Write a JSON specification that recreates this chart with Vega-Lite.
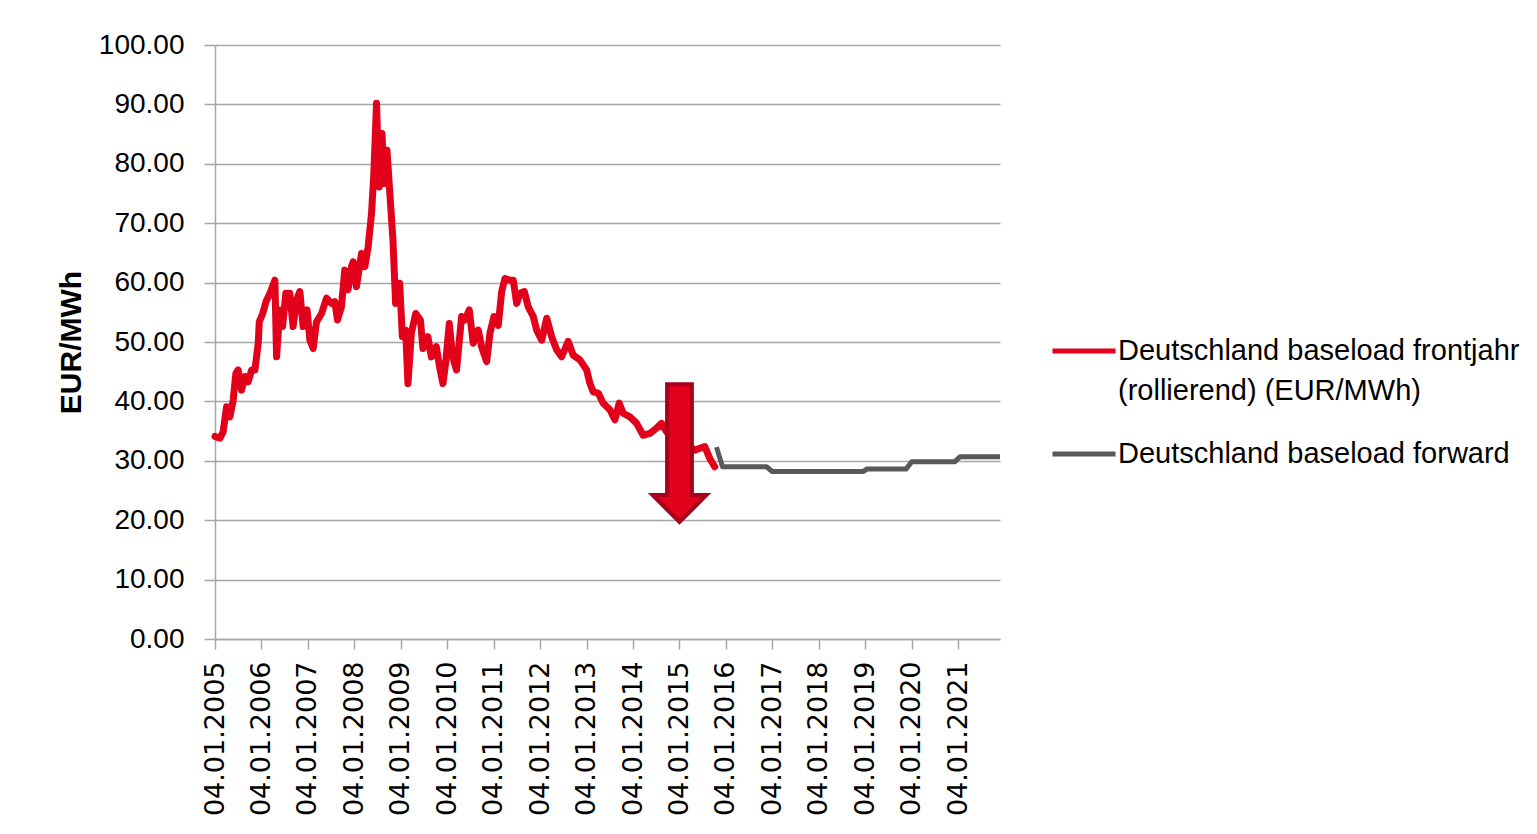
{
  "$schema": "https://vega.github.io/schema/vega-lite/v6.json",
  "autosize": {"type": "none"},
  "width": 785,
  "height": 594,
  "padding": {"left": 215, "top": 45, "right": 537, "bottom": 195},
  "background": "white",
  "config": {
    "view": {"stroke": null},
    "font": "Liberation Sans",
    "style": {"guide-label": {"lineHeight": 40}}
  },
  "layer": [
    {
      "data": {"values": [
        {"series": "Deutschland baseload frontjahr (rollierend) (EUR/MWh)", "date": "2005-01-04", "price": 34.1},
        {"series": "Deutschland baseload frontjahr (rollierend) (EUR/MWh)", "date": "2005-02-12", "price": 33.8},
        {"series": "Deutschland baseload frontjahr (rollierend) (EUR/MWh)", "date": "2005-03-09", "price": 34.9},
        {"series": "Deutschland baseload frontjahr (rollierend) (EUR/MWh)", "date": "2005-04-05", "price": 39.1},
        {"series": "Deutschland baseload frontjahr (rollierend) (EUR/MWh)", "date": "2005-05-01", "price": 37.4},
        {"series": "Deutschland baseload frontjahr (rollierend) (EUR/MWh)", "date": "2005-05-27", "price": 40.2},
        {"series": "Deutschland baseload frontjahr (rollierend) (EUR/MWh)", "date": "2005-06-17", "price": 44.7},
        {"series": "Deutschland baseload frontjahr (rollierend) (EUR/MWh)", "date": "2005-07-05", "price": 45.3},
        {"series": "Deutschland baseload frontjahr (rollierend) (EUR/MWh)", "date": "2005-08-01", "price": 41.9},
        {"series": "Deutschland baseload frontjahr (rollierend) (EUR/MWh)", "date": "2005-08-27", "price": 44.2},
        {"series": "Deutschland baseload frontjahr (rollierend) (EUR/MWh)", "date": "2005-09-22", "price": 43.3},
        {"series": "Deutschland baseload frontjahr (rollierend) (EUR/MWh)", "date": "2005-10-19", "price": 45.3},
        {"series": "Deutschland baseload frontjahr (rollierend) (EUR/MWh)", "date": "2005-11-14", "price": 45.3},
        {"series": "Deutschland baseload frontjahr (rollierend) (EUR/MWh)", "date": "2005-12-10", "price": 49.8},
        {"series": "Deutschland baseload frontjahr (rollierend) (EUR/MWh)", "date": "2005-12-18", "price": 53.4},
        {"series": "Deutschland baseload frontjahr (rollierend) (EUR/MWh)", "date": "2006-01-14", "price": 54.8},
        {"series": "Deutschland baseload frontjahr (rollierend) (EUR/MWh)", "date": "2006-02-09", "price": 56.8},
        {"series": "Deutschland baseload frontjahr (rollierend) (EUR/MWh)", "date": "2006-03-12", "price": 58.2},
        {"series": "Deutschland baseload frontjahr (rollierend) (EUR/MWh)", "date": "2006-04-20", "price": 60.4},
        {"series": "Deutschland baseload frontjahr (rollierend) (EUR/MWh)", "date": "2006-05-03", "price": 47.5},
        {"series": "Deutschland baseload frontjahr (rollierend) (EUR/MWh)", "date": "2006-05-29", "price": 55.4},
        {"series": "Deutschland baseload frontjahr (rollierend) (EUR/MWh)", "date": "2006-06-19", "price": 52.6},
        {"series": "Deutschland baseload frontjahr (rollierend) (EUR/MWh)", "date": "2006-07-15", "price": 58.2},
        {"series": "Deutschland baseload frontjahr (rollierend) (EUR/MWh)", "date": "2006-08-15", "price": 58.2},
        {"series": "Deutschland baseload frontjahr (rollierend) (EUR/MWh)", "date": "2006-09-10", "price": 52.6},
        {"series": "Deutschland baseload frontjahr (rollierend) (EUR/MWh)", "date": "2006-10-07", "price": 57.1},
        {"series": "Deutschland baseload frontjahr (rollierend) (EUR/MWh)", "date": "2006-11-02", "price": 58.5},
        {"series": "Deutschland baseload frontjahr (rollierend) (EUR/MWh)", "date": "2006-11-28", "price": 52.6},
        {"series": "Deutschland baseload frontjahr (rollierend) (EUR/MWh)", "date": "2006-12-29", "price": 55.4},
        {"series": "Deutschland baseload frontjahr (rollierend) (EUR/MWh)", "date": "2007-01-20", "price": 50.3},
        {"series": "Deutschland baseload frontjahr (rollierend) (EUR/MWh)", "date": "2007-02-15", "price": 48.9},
        {"series": "Deutschland baseload frontjahr (rollierend) (EUR/MWh)", "date": "2007-03-13", "price": 53.4},
        {"series": "Deutschland baseload frontjahr (rollierend) (EUR/MWh)", "date": "2007-04-22", "price": 54.8},
        {"series": "Deutschland baseload frontjahr (rollierend) (EUR/MWh)", "date": "2007-05-31", "price": 57.4},
        {"series": "Deutschland baseload frontjahr (rollierend) (EUR/MWh)", "date": "2007-07-09", "price": 56.5},
        {"series": "Deutschland baseload frontjahr (rollierend) (EUR/MWh)", "date": "2007-08-04", "price": 56.8},
        {"series": "Deutschland baseload frontjahr (rollierend) (EUR/MWh)", "date": "2007-08-25", "price": 53.7},
        {"series": "Deutschland baseload frontjahr (rollierend) (EUR/MWh)", "date": "2007-09-25", "price": 55.9},
        {"series": "Deutschland baseload frontjahr (rollierend) (EUR/MWh)", "date": "2007-10-21", "price": 62.1},
        {"series": "Deutschland baseload frontjahr (rollierend) (EUR/MWh)", "date": "2007-11-16", "price": 58.8},
        {"series": "Deutschland baseload frontjahr (rollierend) (EUR/MWh)", "date": "2007-12-13", "price": 62.7},
        {"series": "Deutschland baseload frontjahr (rollierend) (EUR/MWh)", "date": "2007-12-26", "price": 63.5},
        {"series": "Deutschland baseload frontjahr (rollierend) (EUR/MWh)", "date": "2008-01-21", "price": 59.3},
        {"series": "Deutschland baseload frontjahr (rollierend) (EUR/MWh)", "date": "2008-03-01", "price": 64.9},
        {"series": "Deutschland baseload frontjahr (rollierend) (EUR/MWh)", "date": "2008-03-27", "price": 62.7},
        {"series": "Deutschland baseload frontjahr (rollierend) (EUR/MWh)", "date": "2008-04-22", "price": 66.0},
        {"series": "Deutschland baseload frontjahr (rollierend) (EUR/MWh)", "date": "2008-05-19", "price": 71.7},
        {"series": "Deutschland baseload frontjahr (rollierend) (EUR/MWh)", "date": "2008-06-06", "price": 78.4},
        {"series": "Deutschland baseload frontjahr (rollierend) (EUR/MWh)", "date": "2008-06-27", "price": 90.2},
        {"series": "Deutschland baseload frontjahr (rollierend) (EUR/MWh)", "date": "2008-07-17", "price": 76.1},
        {"series": "Deutschland baseload frontjahr (rollierend) (EUR/MWh)", "date": "2008-08-09", "price": 85.1},
        {"series": "Deutschland baseload frontjahr (rollierend) (EUR/MWh)", "date": "2008-08-25", "price": 76.7},
        {"series": "Deutschland baseload frontjahr (rollierend) (EUR/MWh)", "date": "2008-09-17", "price": 82.3},
        {"series": "Deutschland baseload frontjahr (rollierend) (EUR/MWh)", "date": "2008-10-08", "price": 75.6},
        {"series": "Deutschland baseload frontjahr (rollierend) (EUR/MWh)", "date": "2008-11-03", "price": 67.2},
        {"series": "Deutschland baseload frontjahr (rollierend) (EUR/MWh)", "date": "2008-11-24", "price": 56.5},
        {"series": "Deutschland baseload frontjahr (rollierend) (EUR/MWh)", "date": "2008-12-26", "price": 59.9},
        {"series": "Deutschland baseload frontjahr (rollierend) (EUR/MWh)", "date": "2009-01-16", "price": 50.9},
        {"series": "Deutschland baseload frontjahr (rollierend) (EUR/MWh)", "date": "2009-02-11", "price": 52.0},
        {"series": "Deutschland baseload frontjahr (rollierend) (EUR/MWh)", "date": "2009-03-01", "price": 43.0},
        {"series": "Deutschland baseload frontjahr (rollierend) (EUR/MWh)", "date": "2009-03-28", "price": 51.5},
        {"series": "Deutschland baseload frontjahr (rollierend) (EUR/MWh)", "date": "2009-05-01", "price": 54.8},
        {"series": "Deutschland baseload frontjahr (rollierend) (EUR/MWh)", "date": "2009-06-07", "price": 53.7},
        {"series": "Deutschland baseload frontjahr (rollierend) (EUR/MWh)", "date": "2009-06-27", "price": 48.9},
        {"series": "Deutschland baseload frontjahr (rollierend) (EUR/MWh)", "date": "2009-08-05", "price": 50.9},
        {"series": "Deutschland baseload frontjahr (rollierend) (EUR/MWh)", "date": "2009-09-01", "price": 47.5},
        {"series": "Deutschland baseload frontjahr (rollierend) (EUR/MWh)", "date": "2009-10-10", "price": 49.2},
        {"series": "Deutschland baseload frontjahr (rollierend) (EUR/MWh)", "date": "2009-11-05", "price": 45.8},
        {"series": "Deutschland baseload frontjahr (rollierend) (EUR/MWh)", "date": "2009-12-01", "price": 43.0},
        {"series": "Deutschland baseload frontjahr (rollierend) (EUR/MWh)", "date": "2009-12-22", "price": 46.4},
        {"series": "Deutschland baseload frontjahr (rollierend) (EUR/MWh)", "date": "2010-01-20", "price": 53.1},
        {"series": "Deutschland baseload frontjahr (rollierend) (EUR/MWh)", "date": "2010-02-15", "price": 47.5},
        {"series": "Deutschland baseload frontjahr (rollierend) (EUR/MWh)", "date": "2010-03-18", "price": 45.3},
        {"series": "Deutschland baseload frontjahr (rollierend) (EUR/MWh)", "date": "2010-04-27", "price": 54.3},
        {"series": "Deutschland baseload frontjahr (rollierend) (EUR/MWh)", "date": "2010-05-23", "price": 53.7},
        {"series": "Deutschland baseload frontjahr (rollierend) (EUR/MWh)", "date": "2010-06-26", "price": 55.4},
        {"series": "Deutschland baseload frontjahr (rollierend) (EUR/MWh)", "date": "2010-07-27", "price": 49.8},
        {"series": "Deutschland baseload frontjahr (rollierend) (EUR/MWh)", "date": "2010-09-05", "price": 52.0},
        {"series": "Deutschland baseload frontjahr (rollierend) (EUR/MWh)", "date": "2010-10-01", "price": 49.2},
        {"series": "Deutschland baseload frontjahr (rollierend) (EUR/MWh)", "date": "2010-11-10", "price": 46.7},
        {"series": "Deutschland baseload frontjahr (rollierend) (EUR/MWh)", "date": "2010-12-06", "price": 51.5},
        {"series": "Deutschland baseload frontjahr (rollierend) (EUR/MWh)", "date": "2011-01-06", "price": 54.3},
        {"series": "Deutschland baseload frontjahr (rollierend) (EUR/MWh)", "date": "2011-02-09", "price": 52.8},
        {"series": "Deutschland baseload frontjahr (rollierend) (EUR/MWh)", "date": "2011-03-08", "price": 58.5},
        {"series": "Deutschland baseload frontjahr (rollierend) (EUR/MWh)", "date": "2011-04-03", "price": 60.7},
        {"series": "Deutschland baseload frontjahr (rollierend) (EUR/MWh)", "date": "2011-05-12", "price": 60.4},
        {"series": "Deutschland baseload frontjahr (rollierend) (EUR/MWh)", "date": "2011-06-07", "price": 60.4},
        {"series": "Deutschland baseload frontjahr (rollierend) (EUR/MWh)", "date": "2011-07-04", "price": 56.5},
        {"series": "Deutschland baseload frontjahr (rollierend) (EUR/MWh)", "date": "2011-07-30", "price": 58.2},
        {"series": "Deutschland baseload frontjahr (rollierend) (EUR/MWh)", "date": "2011-09-02", "price": 58.5},
        {"series": "Deutschland baseload frontjahr (rollierend) (EUR/MWh)", "date": "2011-10-03", "price": 55.9},
        {"series": "Deutschland baseload frontjahr (rollierend) (EUR/MWh)", "date": "2011-11-11", "price": 54.3},
        {"series": "Deutschland baseload frontjahr (rollierend) (EUR/MWh)", "date": "2011-12-08", "price": 52.0},
        {"series": "Deutschland baseload frontjahr (rollierend) (EUR/MWh)", "date": "2012-01-17", "price": 50.3},
        {"series": "Deutschland baseload frontjahr (rollierend) (EUR/MWh)", "date": "2012-02-25", "price": 54.0},
        {"series": "Deutschland baseload frontjahr (rollierend) (EUR/MWh)", "date": "2012-04-04", "price": 50.9},
        {"series": "Deutschland baseload frontjahr (rollierend) (EUR/MWh)", "date": "2012-05-13", "price": 48.7},
        {"series": "Deutschland baseload frontjahr (rollierend) (EUR/MWh)", "date": "2012-06-21", "price": 47.5},
        {"series": "Deutschland baseload frontjahr (rollierend) (EUR/MWh)", "date": "2012-08-12", "price": 50.1},
        {"series": "Deutschland baseload frontjahr (rollierend) (EUR/MWh)", "date": "2012-09-20", "price": 47.8},
        {"series": "Deutschland baseload frontjahr (rollierend) (EUR/MWh)", "date": "2012-11-12", "price": 47.0},
        {"series": "Deutschland baseload frontjahr (rollierend) (EUR/MWh)", "date": "2013-01-04", "price": 45.3},
        {"series": "Deutschland baseload frontjahr (rollierend) (EUR/MWh)", "date": "2013-01-30", "price": 43.0},
        {"series": "Deutschland baseload frontjahr (rollierend) (EUR/MWh)", "date": "2013-02-25", "price": 41.6},
        {"series": "Deutschland baseload frontjahr (rollierend) (EUR/MWh)", "date": "2013-04-05", "price": 41.4},
        {"series": "Deutschland baseload frontjahr (rollierend) (EUR/MWh)", "date": "2013-05-14", "price": 39.7},
        {"series": "Deutschland baseload frontjahr (rollierend) (EUR/MWh)", "date": "2013-07-06", "price": 38.6},
        {"series": "Deutschland baseload frontjahr (rollierend) (EUR/MWh)", "date": "2013-08-14", "price": 36.9},
        {"series": "Deutschland baseload frontjahr (rollierend) (EUR/MWh)", "date": "2013-09-17", "price": 39.7},
        {"series": "Deutschland baseload frontjahr (rollierend) (EUR/MWh)", "date": "2013-10-18", "price": 38.0},
        {"series": "Deutschland baseload frontjahr (rollierend) (EUR/MWh)", "date": "2013-12-10", "price": 37.4},
        {"series": "Deutschland baseload frontjahr (rollierend) (EUR/MWh)", "date": "2014-02-01", "price": 36.3},
        {"series": "Deutschland baseload frontjahr (rollierend) (EUR/MWh)", "date": "2014-03-24", "price": 34.3},
        {"series": "Deutschland baseload frontjahr (rollierend) (EUR/MWh)", "date": "2014-05-16", "price": 34.6},
        {"series": "Deutschland baseload frontjahr (rollierend) (EUR/MWh)", "date": "2014-07-08", "price": 35.5},
        {"series": "Deutschland baseload frontjahr (rollierend) (EUR/MWh)", "date": "2014-08-16", "price": 36.3},
        {"series": "Deutschland baseload frontjahr (rollierend) (EUR/MWh)", "date": "2014-09-24", "price": 34.9},
        {"series": "Deutschland baseload frontjahr (rollierend) (EUR/MWh)", "date": "2014-11-29", "price": 34.0},
        {"series": "Deutschland baseload frontjahr (rollierend) (EUR/MWh)", "date": "2015-02-16", "price": 33.0},
        {"series": "Deutschland baseload frontjahr (rollierend) (EUR/MWh)", "date": "2015-05-05", "price": 31.8},
        {"series": "Deutschland baseload frontjahr (rollierend) (EUR/MWh)", "date": "2015-06-13", "price": 32.1},
        {"series": "Deutschland baseload frontjahr (rollierend) (EUR/MWh)", "date": "2015-07-22", "price": 32.4},
        {"series": "Deutschland baseload frontjahr (rollierend) (EUR/MWh)", "date": "2015-08-30", "price": 30.4},
        {"series": "Deutschland baseload frontjahr (rollierend) (EUR/MWh)", "date": "2015-10-08", "price": 29.0}
      ]},
      "mark": {"type": "line", "strokeWidth": 7, "strokeJoin": "round", "strokeCap": "round"},
      "encoding": {
        "x": {
          "field": "date", "type": "temporal",
          "scale": {"type": "utc", "domain": [{"year": 2005, "month": 1, "date": 4, "utc": true}, {"year": 2021, "month": 11, "date": 28, "utc": true}]},
          "axis": {
            "title": null,
            "grid": false,
            "values": [
              {"year": 2005, "month": 1, "date": 4, "utc": true},
              {"year": 2006, "month": 1, "date": 4, "utc": true},
              {"year": 2007, "month": 1, "date": 4, "utc": true},
              {"year": 2008, "month": 1, "date": 4, "utc": true},
              {"year": 2009, "month": 1, "date": 4, "utc": true},
              {"year": 2010, "month": 1, "date": 4, "utc": true},
              {"year": 2011, "month": 1, "date": 4, "utc": true},
              {"year": 2012, "month": 1, "date": 4, "utc": true},
              {"year": 2013, "month": 1, "date": 4, "utc": true},
              {"year": 2014, "month": 1, "date": 4, "utc": true},
              {"year": 2015, "month": 1, "date": 4, "utc": true},
              {"year": 2016, "month": 1, "date": 4, "utc": true},
              {"year": 2017, "month": 1, "date": 4, "utc": true},
              {"year": 2018, "month": 1, "date": 4, "utc": true},
              {"year": 2019, "month": 1, "date": 4, "utc": true},
              {"year": 2020, "month": 1, "date": 4, "utc": true},
              {"year": 2021, "month": 1, "date": 4, "utc": true}
            ],
            "labelExpr": "utcFormat(datum.value, '%d.%m.%Y')",
            "labelAngle": -90,
            "labelFont": "DejaVu Sans",
            "labelFontSize": 27,
            "labelColor": "#000000",
            "labelPadding": 12,
            "labelOverlap": false,
            "labelBound": false,
            "labelFlush": false,
            "tickSize": 10,
            "tickColor": "#a6a6a6",
            "tickWidth": 1.5,
            "domainColor": "#a6a6a6",
            "domainWidth": 1.5
          }
        },
        "y": {
          "field": "price", "type": "quantitative",
          "scale": {"domain": [0, 100], "nice": false},
          "axis": {
            "values": [0, 10, 20, 30, 40, 50, 60, 70, 80, 90, 100],
            "format": ".2f",
            "title": "EUR/MWh",
            "titleFont": "Liberation Sans",
            "titleFontSize": 30,
            "titleFontWeight": "bold",
            "titleColor": "#000000",
            "titlePadding": 12,
            "labelFont": "Liberation Sans",
            "labelFontSize": 28,
            "labelColor": "#000000",
            "labelPadding": 20,
            "labelFlush": false,
            "tickSize": 11,
            "tickColor": "#a6a6a6",
            "tickWidth": 1.5,
            "domainColor": "#a6a6a6",
            "domainWidth": 1.5,
            "grid": true,
            "gridColor": "#a6a6a6",
            "gridWidth": 1.5
          }
        },
        "color": {
          "field": "series", "type": "nominal",
          "scale": {"domain": ["Deutschland baseload frontjahr (rollierend) (EUR/MWh)", "Deutschland baseload forward"], "range": ["#e2001a", "#595959"]},
          "legend": {
            "orient": "none",
            "legendX": 835,
            "legendY": 272,
            "title": null,
            "padding": 0,
            "symbolType": "stroke",
            "symbolStrokeWidth": 5,
            "symbolSize": 3969,
            "labelFont": "Liberation Sans",
            "labelFontSize": 29,
            "labelColor": "#000000",
            "labelLimit": 600,
            "labelOffset": 0,
            "rowPadding": 14,
            "labelExpr": "datum.label == 'Deutschland baseload forward' ? datum.label : ['Deutschland baseload frontjahr', '(rollierend) (EUR/MWh)']"
          }
        }
      }
    },
    {
      "data": {"values": [
        {"series": "Deutschland baseload forward", "date": "2015-10-22", "price": 32.3},
        {"series": "Deutschland baseload forward", "date": "2015-12-08", "price": 29.0},
        {"series": "Deutschland baseload forward", "date": "2016-11-19", "price": 29.0},
        {"series": "Deutschland baseload forward", "date": "2017-01-02", "price": 28.2},
        {"series": "Deutschland baseload forward", "date": "2018-12-20", "price": 28.2},
        {"series": "Deutschland baseload forward", "date": "2019-01-15", "price": 28.6},
        {"series": "Deutschland baseload forward", "date": "2019-11-20", "price": 28.6},
        {"series": "Deutschland baseload forward", "date": "2020-01-04", "price": 29.85},
        {"series": "Deutschland baseload forward", "date": "2020-12-08", "price": 29.85},
        {"series": "Deutschland baseload forward", "date": "2021-01-19", "price": 30.7},
        {"series": "Deutschland baseload forward", "date": "2021-11-28", "price": 30.7}
      ]},
      "mark": {"type": "line", "strokeWidth": 5, "strokeJoin": "round"},
      "encoding": {
        "x": {"field": "date", "type": "temporal"},
        "y": {"field": "price", "type": "quantitative"},
        "color": {"field": "series", "type": "nominal"}
      }
    },
    {
      "data": {"values": [{"date": "2015-01-04", "price": 31.3}]},
      "mark": {
        "type": "point",
        "shape": "M-0.18,-1 L0.18,-1 L0.18,0.61 L0.39,0.61 L0,1 L-0.39,0.61 L-0.18,0.61 Z",
        "size": 19000,
        "filled": true,
        "fill": "#e2001a",
        "stroke": "#a8001c",
        "strokeWidth": 4,
        "opacity": 1
      },
      "encoding": {
        "x": {"field": "date", "type": "temporal"},
        "y": {"field": "price", "type": "quantitative"}
      }
    }
  ]
}
